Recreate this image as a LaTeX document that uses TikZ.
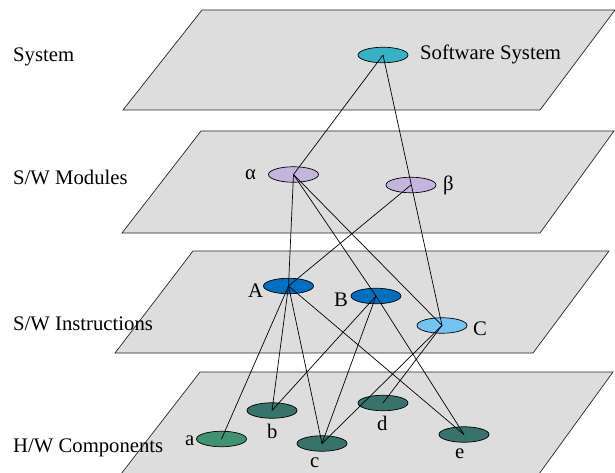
\documentclass[tikz,border=0pt]{standalone}
\usepackage{fontspec}
\setmainfont{Liberation Serif}
\usetikzlibrary{shapes.geometric}
\definecolor{planefill}{HTML}{DDDDDD}
\definecolor{sysc}{HTML}{35B3C5}
\definecolor{modc}{HTML}{C3B5DD}
\definecolor{insc}{HTML}{0070C0}
\definecolor{insl}{HTML}{72C4F2}
\definecolor{hwa}{HTML}{3E9470}
\definecolor{hwc}{HTML}{37736A}
\begin{document}
\begin{tikzpicture}[x=1pt, y=-1pt,
  font=\fontsize{20.7}{24}\selectfont,
  planebox/.style={fill=planefill},
  planeedge/.style={draw=black!85, line width=0.7pt, line join=miter},
  comp/.style={ellipse, draw=black, line width=0.7pt, minimum width=50pt,
    minimum height=15.5pt, inner sep=0pt},
  link/.style={draw=black, line width=0.7pt},
  lbl/.style={anchor=base west, inner sep=0pt}]
\useasboundingbox (0,0) rectangle (615,473);

% layer planes
\fill[planebox] (202,10) -- (615,10) -- (540,110) -- (123,110) -- cycle;
\draw[planeedge] (202,10) -- (615,10) -- (540,110) -- (123,110) -- cycle;
\fill[planebox] (201,131) -- (614,131) -- (540,233) -- (122,233) -- cycle;
\draw[planeedge] (201,131) -- (614,131) -- (540,233) -- (122,233) -- cycle;
\fill[planebox] (193,251) -- (609,251) -- (533,353) -- (115,353) -- cycle;
\draw[planeedge] (193,251) -- (609,251) -- (533,353) -- (115,353) -- cycle;
\fill[planebox] (200,372) -- (613,372) -- (539,474) -- (121,474) -- cycle;
\draw[planeedge] (121,474) -- (200,372) -- (613,372) -- (539,474);

% layer names
\node[lbl] (tSys) at (13,61.5) {System};
\node[lbl] (tMod) at (13,184) {S/W Modules};
\node[lbl] (tIns) at (13,330) {S/W Instructions};
\node[lbl] (tHw)  at (13,452) {H/W Components};

% elements
\node[comp, fill=sysc] (SS) at (383,55) {};
\node[comp, fill=modc] (al) at (293.5,174.5) {};
\node[comp, fill=modc] (be) at (411,185) {};
\node[comp, fill=insc] (A) at (288.5,286) {};
\node[comp, fill=insc] (B) at (376,296) {};
\node[comp, fill=insl] (C) at (442,325.5) {};
\node[comp, fill=hwa] (a) at (221.5,439) {};
\node[comp, fill=hwc] (b) at (272,410.5) {};
\node[comp, fill=hwc] (c) at (322,443.5) {};
\node[comp, fill=hwc] (d) at (383,403) {};
\node[comp, fill=hwc] (e) at (464,434.5) {};

% dependencies
\draw[link] (SS.center) -- (al.center);
\draw[link] (SS.center) -- (C.center);
\draw[link] (al.center) -- (A.center);
\draw[link] (al.center) -- (B.center);
\draw[link] (al.center) -- (C.center);
\draw[link] (be.center) -- (A.center);
\draw[link] (A.center) -- (a.center);
\draw[link] (A.center) -- (b.center);
\draw[link] (A.center) -- (c.center);
\draw[link] (A.center) -- (e.center);
\draw[link] (B.center) -- (b.center);
\draw[link] (B.center) -- (c.center);
\draw[link] (B.center) -- (e.center);
\draw[link] (C.center) -- (c.center);
\draw[link] (C.center) -- (d.center);

% element names
\node[lbl] (lSS) at (420,60) {Software System};
\node[lbl] (lal) at (245,179) {α};
\node[lbl] (lbe) at (443,190) {β};
\node[lbl] (lA) at (248,297) {A};
\node[lbl] (lB) at (334,306) {B};
\node[lbl] (lC) at (473,335) {C};
\node[lbl] (la) at (185,445) {a};
\node[lbl] (lb) at (267,438) {b};
\node[lbl] (lc) at (310,467) {c};
\node[lbl] (ld) at (377,430) {d};
\node[lbl] (le) at (455,458) {e};
\end{tikzpicture}
\end{document}
